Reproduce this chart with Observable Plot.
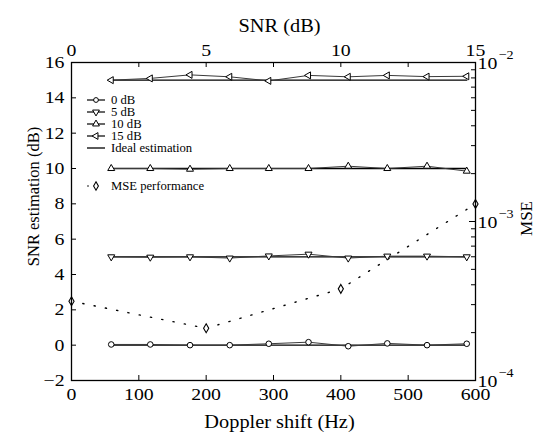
<!DOCTYPE html>
<html><head><meta charset="utf-8">
<script src="https://cdn.jsdelivr.net/npm/d3@7"></script>
<script src="https://cdn.jsdelivr.net/npm/@observablehq/plot@0.6"></script>
<style>body{margin:0;background:#fff}</style>
</head><body><div id="chart"></div>
<script>
// ---- data ----
const doppler = [59, 117, 176, 235, 293, 352, 411, 469, 528, 587];
const snrLevels = [0, 5, 10, 15];
const est0  = [0.04, 0.04, 0.0, 0.0, 0.08, 0.17, -0.06, 0.10, 0.0, 0.08];
const est5  = [5.0, 4.98, 5.0, 4.93, 5.05, 5.15, 4.93, 5.04, 5.04, 5.0];
const est10 = [10.0, 10.0, 9.96, 10.0, 10.0, 10.0, 10.13, 10.0, 10.13, 9.85];
const est15 = [15.0, 15.1, 15.3, 15.19, 14.96, 15.27, 15.19, 15.27, 15.2, 15.22];
const mseSnr = [0, 5, 10, 15];
const mseVal = [3.15e-4, 2.13e-4, 3.77e-4, 1.29e-3];
const xTicks = [0, 100, 200, 300, 400, 500, 600];
const yTicks = [-2, 0, 2, 4, 6, 8, 10, 12, 14, 16];
const snrTicks = [0, 5, 10, 15];
const mseMajor = [1e-4, 1e-3, 1e-2];
const mseMajorLabels = ["\u22124", "\u22123", "\u22122"];
const mseMinor = [2,3,4,5,6,7,8,9].flatMap(k => [k*1e-4, k*1e-3]);
const seriesLabels = ["0 dB", "5 dB", "10 dB", "15 dB"];
const legendExtra = ["Ideal estimation", "MSE performance"];

// ---- layout ----
const W = 535, H = 432, mL = 71, mR = 60, mT = 62, mB = 52;
const innerW = W - mL - mR, innerH = H - mT - mB;
const hzPerSnr = 600 / 15;
const yMin = -2, yMax = 16, logMin = -4, logMax = -2;
const mseToY = m => yMin + (yMax - yMin) * (Math.log10(m) - logMin) / (logMax - logMin);
const FONT = "'Liberation Serif', 'Times New Roman', serif";

const estimates = [est0, est5, est10, est15];
const symbolOf = ["circle", "triangle", "triangle", "triangle"];
const rotateOf = [0, 180, 0, -90];
const rOf = [2.8, 2.6, 2.6, 2.6];

const idealRows = snrLevels.flatMap((s) => doppler.map(d => ({snr: s, x: d, y: s})));
const estRows = snrLevels.flatMap((s, i) => doppler.map((d, j) => ({snr: s, x: d, y: estimates[i][j]})));
const mseRows = mseSnr.map((s, i) => ({x: s * hzPerSnr, y: mseToY(mseVal[i])}));

const marks = [
  Plot.line(idealRows, {x: "x", y: "y", z: "snr", stroke: "#000", strokeWidth: 1.3}),
  Plot.line(estRows, {x: "x", y: "y", z: "snr", stroke: "#3a3a3a", strokeWidth: 1}),
  Plot.line(mseRows, {x: "x", y: "y", stroke: "#000", strokeWidth: 1.4, strokeDasharray: "1.2,10.3", strokeLinecap: "round"}),
  Plot.dot(mseRows, {x: "x", y: "y", symbol: "diamond", r: 2.7, stroke: "#000", fill: "#fff", strokeWidth: 1.1}),
];
snrLevels.forEach((s, i) => {
  marks.push(Plot.dot(estRows.filter(d => d.snr === s), {x: "x", y: "y", symbol: symbolOf[i], rotate: rotateOf[i], r: rOf[i], stroke: "#000", fill: "#fff", strokeWidth: 1}));
});
marks.push(
  Plot.frame({stroke: "#000", strokeWidth: 1.3}),
  Plot.ruleX(xTicks, {x: d => d, insetTop: innerH - 5, stroke: "#000"}),
  Plot.ruleX(xTicks, {x: d => d, insetBottom: innerH - 5, stroke: "#000"}),
  Plot.ruleY(yTicks, {y: d => d, insetRight: innerW - 5, stroke: "#000"}),
  Plot.ruleY(mseMajor, {y: d => mseToY(d), insetLeft: innerW - 6, stroke: "#000"}),
  Plot.ruleY(mseMinor, {y: d => mseToY(d), insetLeft: innerW - 4, stroke: "#000"}),
  Plot.axisX(xTicks, {anchor: "bottom", tickSize: 0, tickPadding: 7, fontSize: 17.5, label: null}),
  Plot.axisX(snrTicks.map(s => s * hzPerSnr), {anchor: "top", tickSize: 0, tickPadding: 7, fontSize: 17.5, tickFormat: d => String(d / hzPerSnr), label: null}),
  Plot.axisY(yTicks, {anchor: "left", tickSize: 0, tickPadding: 7, fontSize: 17.5, tickFormat: d => d < 0 ? "\u2212" + Math.abs(d) : String(d), label: null}),
  Plot.text(mseMajor, {y: d => mseToY(d), frameAnchor: "right", text: () => "10", textAnchor: "start", dx: 2, dy: 1, fontSize: 17.5}),
  Plot.text(mseMajor, {y: d => mseToY(d), frameAnchor: "right", text: (d, i) => mseMajorLabels[i], textAnchor: "start", dx: 23, dy: -8, fontSize: 12.5}),
  Plot.text(["Doppler shift (Hz)"], {frameAnchor: "bottom", lineAnchor: "bottom", dy: 47, dx: 6, fontSize: 18}),
  Plot.text(["SNR (dB)"], {frameAnchor: "top", lineAnchor: "bottom", dy: -31, dx: 6, fontSize: 18}),
  Plot.text(["SNR estimation (dB)"], {frameAnchor: "left", textAnchor: "middle", rotate: -90, dx: -38, dy: -25, fontSize: 16.5}),
  Plot.text(["MSE"], {frameAnchor: "right", textAnchor: "middle", rotate: -90, dx: 51, dy: -3, fontSize: 17})
);

const svg = Plot.plot({
  width: W, height: H,
  marginLeft: mL, marginRight: mR, marginTop: mT, marginBottom: mB,
  x: {domain: [0, 600], axis: null},
  y: {domain: [yMin, yMax], axis: null},
  style: {fontFamily: FONT, fontSize: "17.5px", background: "#fff", color: "#000"},
  marks
});
document.getElementById("chart").appendChild(svg);

// ---- legend (inside the plot, drawn into the same SVG) ----
const lg = d3.select(svg).append("g").attr("font-family", FONT).attr("font-size", 11.5)
  .attr("fill", "#000").attr("text-anchor", "start");
const rowY = [100, 112, 124, 136, 148];
const lx1 = 87, lx2 = 105, lxm = 96, ltx = 111;
seriesLabels.forEach((lab, i) => {
  lg.append("line").attr("x1", lx1).attr("x2", lx2).attr("y1", rowY[i]).attr("y2", rowY[i]).attr("stroke", "#000").attr("stroke-width", 1.2);
  const sym = i === 0 ? d3.symbolCircle : d3.symbolTriangle;
  lg.append("path").attr("d", d3.symbol(sym, i === 0 ? 18 : 20)())
    .attr("transform", `translate(${lxm},${rowY[i]}) rotate(${rotateOf[i]})`)
    .attr("fill", "#fff").attr("stroke", "#000").attr("stroke-width", 1);
  lg.append("text").attr("class", "lg").attr("x", ltx).attr("y", rowY[i]).attr("dy", "0.32em").text(lab);
});
lg.append("line").attr("x1", lx1).attr("x2", lx2).attr("y1", rowY[4]).attr("y2", rowY[4]).attr("stroke", "#000").attr("stroke-width", 1.3);
lg.append("text").attr("class", "lg").attr("x", ltx).attr("y", rowY[4]).attr("dy", "0.32em").text(legendExtra[0]);
const mseY = 186;
lg.append("circle").attr("cx", 88).attr("cy", mseY).attr("r", 0.8).attr("fill", "#000");
lg.append("path").attr("d", d3.symbol(d3.symbolDiamond, 20)()).attr("transform", `translate(${lxm},${mseY})`)
  .attr("fill", "#fff").attr("stroke", "#000").attr("stroke-width", 1.1);
lg.append("text").attr("class", "lg").attr("x", ltx).attr("y", mseY).attr("dy", "0.32em").text(legendExtra[1]);

// widen horizontal text slightly (reference glyphs are horizontally stretched)
function isRotated(el) {
  for (let n = el; n && n !== svg.parentNode; n = n.parentNode) {
    const tr = n.getAttribute && n.getAttribute("transform");
    if (tr && /rotate\(\s*-?9/.test(tr)) return true;
  }
  return false;
}
svg.querySelectorAll("text").forEach(t => {
  if (isRotated(t)) return;
  const f = t.classList.contains("lg") ? 1.1 : 1.13;
  const len = t.getComputedTextLength();
  if (len > 0) { t.setAttribute("textLength", (len * f).toFixed(1)); t.setAttribute("lengthAdjust", "spacingAndGlyphs"); }
});
</script>
</body></html>
